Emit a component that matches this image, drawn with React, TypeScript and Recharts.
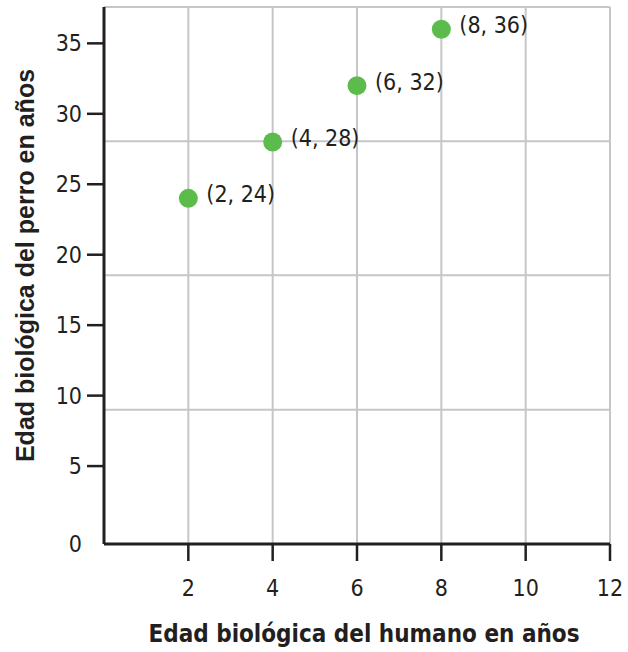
import { ScatterChart, Scatter, XAxis, YAxis, CartesianGrid, ReferenceLine, LabelList, Label } from 'recharts'

const humanAge = [2, 4, 6, 8]
const dogAge = [24, 28, 32, 36]
const xTicks = [2, 4, 6, 8, 10, 12]
const yTicks = [0, 5, 10, 15, 20, 25, 30, 35]
const yGridLines = [9, 18.55, 28.05]

const xTitle = 'Edad biológica del humano en años'
const yTitle = 'Edad biológica del perro en años'

const points = humanAge.map((x, i) => ({ x, y: dogAge[i] }))

const W = 628
const H = 652
const TOP = 7
const LEFT = 104
const RIGHT = 18
const X_AXIS_H = 108
const PLOT_BOTTOM = H - X_AXIS_H

const INK = '#231f20'
const GRID = '#c6c6c9'
const DOT = '#5bbb4b'
const TICK_FONT = "Tahoma, 'DejaVu Sans Condensed', 'DejaVu Sans', sans-serif"

function YTick(props: any) {
  const { x, y, payload } = props
  const isZero = payload.value === 0
  return (
    <g>
      {!isZero && <line x1={x + 5} x2={x + 22} y1={y} y2={y} stroke={INK} strokeWidth={2.5} />}
      <text
        x={x}
        y={isZero ? PLOT_BOTTOM : y}
        textAnchor="end"
        dominantBaseline="central"
        fill={INK}
        fontSize={23}
        fontFamily={TICK_FONT}
      >
        {payload.value}
      </text>
    </g>
  )
}

function PointLabel(props: any) {
  const { x, y, width, height, index } = props
  const cx = x + width / 2
  const cy = y + height / 2
  return (
    <text
      x={cx + 18}
      y={cy - 4}
      dominantBaseline="central"
      fill={INK}
      fontSize={23}
      fontFamily={TICK_FONT}
    >
      {`(${humanAge[index]}, ${dogAge[index]})`}
    </text>
  )
}

export default function App() {
  return (
    <div style={{ position: 'absolute', left: 0, top: 0, background: '#fff' }}>
      <ScatterChart width={W} height={H} margin={{ top: TOP, right: RIGHT, bottom: 0, left: 0 }}>
        <CartesianGrid horizontal={false} stroke={GRID} strokeWidth={2} />
        {yGridLines.map((v) => (
          <ReferenceLine key={v} y={v} stroke={GRID} strokeWidth={2} />
        ))}
        <ReferenceLine y={37.58} stroke={GRID} strokeWidth={2} />
        <XAxis
          type="number"
          dataKey="x"
          domain={[0, 12]}
          ticks={xTicks}
          height={X_AXIS_H}
          tickSize={17}
          tickMargin={19}
          axisLine={{ stroke: INK, strokeWidth: 3 }}
          tickLine={{ stroke: INK, strokeWidth: 2.5 }}
          tick={{ fill: INK, fontSize: 23, fontFamily: TICK_FONT }}
        >
          <Label
            value={xTitle}
            position="insideBottom"
            offset={10}
            dx={7}
            fill={INK}
            fontSize={24}
            fontWeight="bold"
            fontFamily={TICK_FONT}
          />
        </XAxis>
        <YAxis
          type="number"
          dataKey="y"
          domain={[-0.53, 37.58]}
          ticks={yTicks}
          width={LEFT}
          tickSize={17}
          tickMargin={5}
          interval={0}
          axisLine={{ stroke: INK, strokeWidth: 3 }}
          tickLine={false}
          tick={<YTick />}
        >
          <Label
            content={(p: any) => {
              const vb = p.viewBox
              const cx = vb.x + 25
              const cy = vb.y + vb.height / 2 - 10
              return (
                <text
                  x={cx}
                  y={cy}
                  transform={`rotate(-90 ${cx} ${cy})`}
                  textAnchor="middle"
                  dominantBaseline="central"
                  fill={INK}
                  fontSize={25}
                  fontWeight="bold"
                  fontFamily="'Liberation Sans', Arial, sans-serif"
                >
                  {yTitle}
                </text>
              )
            }}
          />
        </YAxis>
        <Scatter data={points} fill={DOT} isAnimationActive={false} shape={(p: any) => <circle cx={p.cx} cy={p.cy} r={9.5} fill={DOT} />}>
          <LabelList dataKey="y" content={<PointLabel />} />
        </Scatter>
      </ScatterChart>
    </div>
  )
}
